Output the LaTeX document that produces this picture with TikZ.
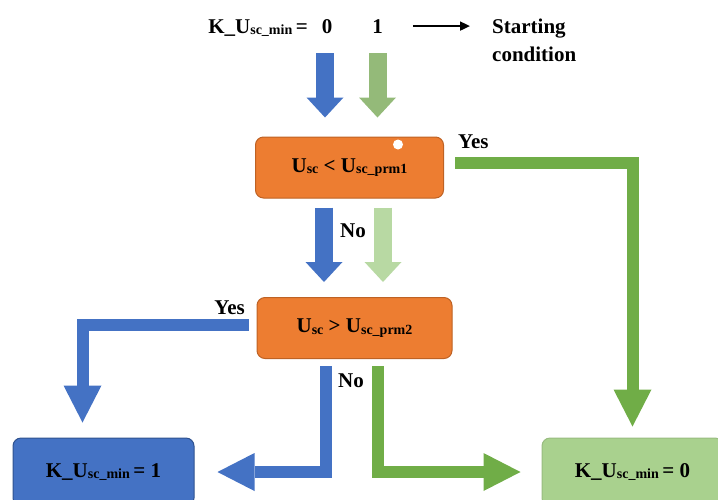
\documentclass[tikz,border=0pt]{standalone}
\usepackage{fontspec}
\setmainfont{Liberation Serif}
\usetikzlibrary{positioning, arrows.meta, calc}
\definecolor{iforange}{RGB}{237,125,49}
\definecolor{iforangeline}{RGB}{190,98,36}
\definecolor{kblue}{RGB}{68,114,196}
\definecolor{kblueline}{RGB}{47,82,143}
\definecolor{kgreen}{RGB}{112,173,71}
\definecolor{kgreenpale}{RGB}{169,209,142}
\definecolor{kgreenmid}{RGB}{148,186,121}
\definecolor{kgreenfade}{RGB}{184,217,163}
\newcommand{\smallsub}[1]{\raisebox{-1.5pt}{\fontsize{14}{14}\selectfont #1}}
\tikzstyle{boldtext}=[font=\fontsize{21}{28}\selectfont\bfseries]
\tikzstyle{condition}=[rectangle, rounded corners=8pt, fill=iforange, draw=iforangeline, line width=1pt, minimum width=188pt, minimum height=61pt, boldtext]
\tikzstyle{outcome}=[rectangle, rounded corners=8pt, line width=1pt, minimum width=181pt, minimum height=68pt, boldtext]
\tikzstyle{fatarrow}=[line width=18pt, -{Triangle[length=20pt, width=37pt, line width=0pt]}]
\tikzstyle{bentarrow}=[line width=12pt, -{Triangle[length=37pt, width=38pt, line width=0pt]}]
\tikzstyle{thinarrow}=[line width=1.8pt, -{Triangle[length=10pt, width=9pt]}]

\begin{document}
\begin{tikzpicture}[x=1pt, y=-1pt]
    \useasboundingbox (0,0) rectangle (718,499);
    \clip (0,0) rectangle (718,499);
    	% Nodes
    	\node[boldtext, anchor=base east, inner sep=0] (kmin) at (308,33) {K\_U\smallsub{sc\_min}\,=};
    	\node[boldtext, anchor=base, inner sep=0] (zero) at (327,33) {0};
    	\node[boldtext, anchor=base, inner sep=0] (one) at (377.5,33) {1};
    	\node[boldtext, anchor=north west, inner sep=0, align=left] (start) at (492,18.5) {Starting\\condition};
		\node[condition] (check1) at (349.5,167.5) {U\smallsub{sc} < U\smallsub{sc\_prm1}};
		\node[condition, minimum width=195pt] (check2) at (354.5,328) {U\smallsub{sc} > U\smallsub{sc\_prm2}};
		\node[outcome, fill=kblue, draw=kblueline] (kone) at (103.5,472) {K\_U\smallsub{sc\_min}\,= 1};
		\node[outcome, fill=kgreenpale, draw=kgreenpale!90!black] (kzero) at (632.5,472) {K\_U\smallsub{sc\_min}\,= 0};
		\node[boldtext, anchor=base west, inner sep=0] (yes1) at (458,148) {Yes};
		\node[boldtext, anchor=base east, inner sep=0] (yes2) at (245,314) {Yes};
		\node[boldtext, anchor=base west, inner sep=0] (no1) at (340,237) {No};
		\node[boldtext, anchor=base west, inner sep=0] (no2) at (338,387) {No};
		\fill[white] ([xshift=-46pt,yshift=-8pt]check1.north east) circle (5pt);

    	% Straight arrows
		\draw[thinarrow] ([xshift=30pt]one.east) -- ([xshift=-22pt]one.east -| start.west);
		\draw[fatarrow, kblue] ([xshift=-2pt,yshift=-20pt]zero.south) -- ([xshift=-2pt,yshift=19pt]zero.south |- check1.north);
		\draw[fatarrow, kgreenmid] ([yshift=-20pt]one.south) -- ([yshift=19pt]one.south |- check1.north);
		\draw[fatarrow, kblue] ([xshift=-25.5pt,yshift=-9pt]check1.south) -- ([xshift=-25.5pt,yshift=15pt]check1.south |- check2.north);
		\draw[fatarrow, kgreenfade] ([xshift=33.5pt,yshift=-9pt]check1.south) -- ([xshift=33.5pt,yshift=15pt]check1.south |- check2.north);

		% Bent arrows
		\draw[bentarrow, kgreen] ([xshift=11pt,yshift=4.5pt]check1.east) -| ([yshift=11pt]kzero.north);
		\draw[bentarrow, kblue] ([xshift=-8pt,yshift=3.5pt]check2.west) -| ([xshift=-21pt,yshift=15pt]kone.north);
		\draw[bentarrow, kblue] ([xshift=-29pt,yshift=-7pt]check2.south) |- ([xshift=23pt]kone.east);
		\draw[bentarrow, kgreen] ([xshift=23.5pt,yshift=-7pt]check2.south) |- ([xshift=-21pt]kzero.west);
    \end{tikzpicture}
\end{document}
